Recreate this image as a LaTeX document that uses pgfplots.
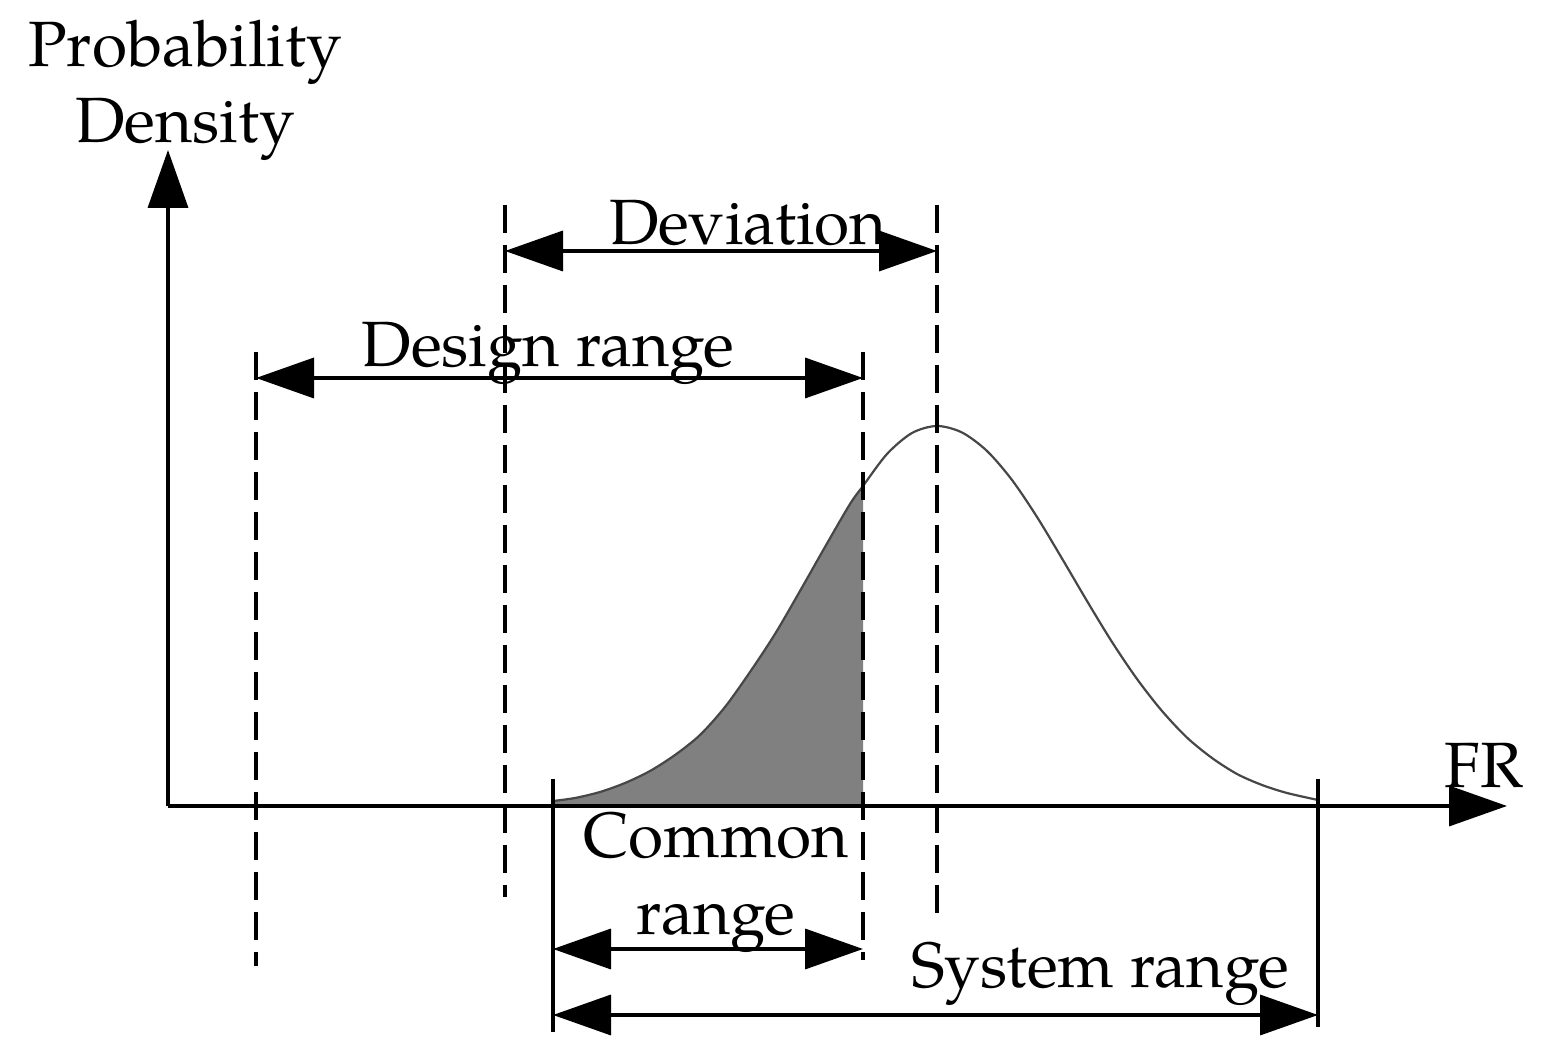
\documentclass[border=0pt]{standalone}
\usepackage{fontspec}
\setmainfont{TeX Gyre Pagella}
\usepackage{pgfplots}
\pgfplotsset{compat=1.18}
\usetikzlibrary{arrows.meta}

% curve of the probability density (x in px, y measured upward; axis at 253)
\pgfplotstableread{
x y
553 258
575 261
600 267
625 276
650 288
675 304
700 324
725 352
750 387
775 425
800 468
825 512
850 555
863 573
887 605
912 626
937 633
962 626.5
987 608
1012 579
1037 542
1062 500.5
1087 458
1112 417
1137 380
1162 348
1187 321.4
1212 301
1237 285
1262 274
1287 266
1318 259
}\curvedata

\pgfplotstableread{
x y
553 253
553 258
575 261
600 267
625 276
650 288
675 304
700 324
725 352
750 387
775 425
800 468
825 512
850 555
863 573
863 253
}\shadedata

\begin{document}
\begin{tikzpicture}
\begin{axis}[
  scale only axis,
  width=385.25pt, height=264.75pt,
  xmin=0, xmax=1541, ymin=0, ymax=1059,
  hide axis, clip=false,
]
% frame that fixes the picture's extent
\path (axis cs:0,0) rectangle (axis cs:1541,1059);
% shaded region
\addplot[fill=black!50, draw=none, forget plot] table[x=x,y=y] {\shadedata} -- cycle;
% curve
\addplot[smooth, line width=0.55pt, color=black!72, forget plot] table[x=x,y=y] {\curvedata};

% axes
\addplot[line width=0.9pt, -{Triangle[length=14.5pt,width=10pt]}] coordinates {(168,253) (168,909)};
\addplot[line width=0.9pt, -{Triangle[length=14.5pt,width=10pt]}] coordinates {(168,253) (1507,253)};

% dashed lines
\addplot[line width=0.85pt, dash pattern=on 7pt off 3pt] coordinates {(256,707) (256,93)};
\addplot[line width=0.85pt, dash pattern=on 7pt off 3pt] coordinates {(505,854) (505,162)};
\addplot[line width=0.85pt, dash pattern=on 7pt off 3pt] coordinates {(863,707) (863,99)};
\addplot[line width=0.85pt, dash pattern=on 7pt off 3pt] coordinates {(937,854) (937,134)};

% solid verticals
\addplot[line width=0.9pt] coordinates {(553,280) (553,27)};
\addplot[line width=0.9pt] coordinates {(1318,280) (1318,32)};

% dimension arrows
\addplot[line width=0.9pt, {Triangle[length=14.5pt,width=10pt]}-{Triangle[length=14.5pt,width=10pt]}] coordinates {(505,808) (937,808)};
\addplot[line width=0.9pt, {Triangle[length=14.5pt,width=10pt]}-{Triangle[length=14.5pt,width=10pt]}] coordinates {(256,681) (863,681)};
\addplot[line width=0.9pt, {Triangle[length=14.5pt,width=10pt]}-{Triangle[length=14.5pt,width=10pt]}] coordinates {(553,110) (863,110)};
\addplot[line width=0.9pt, {Triangle[length=14.5pt,width=10pt]}-{Triangle[length=14.5pt,width=10pt]}] coordinates {(553,44) (1318,44)};

% labels
\begin{scope}[every node/.style={anchor=base, inner sep=0pt, font=\fontsize{16pt}{19pt}\selectfont}]
\node at (axis cs:185,992) {Probability};
\node at (axis cs:185,916) {Density};
\node at (axis cs:748,814) {Deviation};
\node at (axis cs:548,692) {Design range};
\node at (axis cs:716,201) {Common};
\node at (axis cs:716,124) {range};
\node at (axis cs:1100,71) {System range};
\node at (axis cs:1484,271) {FR};
\end{scope}
\end{axis}
\end{tikzpicture}
\end{document}
